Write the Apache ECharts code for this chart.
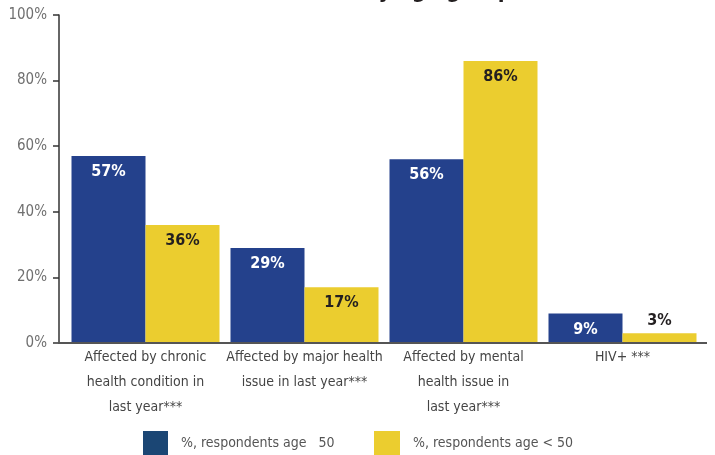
<!DOCTYPE html>
<html><head><meta charset="utf-8">
<script src="https://cdn.jsdelivr.net/npm/echarts@6/dist/echarts.min.js"></script>
<style>html,body{margin:0;padding:0;background:#fff}#c{width:715px;height:455px}</style>
</head><body><div id="c"></div>
<script>
var categories = [
  "Affected by chronic\nhealth condition in\nlast year***",
  "Affected by major health\nissue in last year***",
  "Affected by mental\nhealth issue in\nlast year***",
  "HIV+ ***"
];
var seriesNames = ["%, respondents age   50", "%, respondents age < 50"];
var olderValues = [57, 29, 56, 9];
var youngerValues = [36, 17, 86, 3];
var yTicks = [0, 20, 40, 60, 80, 100];

var FONT = '"DejaVu Sans Condensed", "Liberation Sans Narrow", sans-serif';
var chart = echarts.init(document.getElementById('c'), null, {renderer: 'canvas'});

function mk(vals) {
  return vals.map(function (v) {
    var d = {value: v};
    if (v < 5) d.label = {position: 'top', distance: 4, color: '#231f20'};
    return d;
  });
}

var legendText = {fontFamily: FONT, fontSize: 14, color: '#555', padding: [0, 0, 0, 8]};
var option = {
  animation: false,
  textStyle: {fontFamily: FONT},
  grid: {left: 66, right: 13, top: 15, bottom: 112, containLabel: false},
  legend: [
    {bottom: 0, left: 143, padding: 0, itemWidth: 25, itemHeight: 24, icon: 'rect',
     textStyle: legendText, data: [{name: seriesNames[0], itemStyle: {color: '#1b4674'}}]},
    {bottom: 0, left: 374, padding: 0, itemWidth: 26, itemHeight: 24, icon: 'rect',
     textStyle: legendText, data: [{name: seriesNames[1]}]}
  ],
  xAxis: {
    type: 'category', data: categories,
    axisLine: {show: false}, axisTick: {show: false},
    axisLabel: {fontFamily: FONT, fontSize: 14, color: '#444', lineHeight: 25, margin: 2, interval: 0}
  },
  yAxis: {
    type: 'value', min: 0, max: 100, interval: 20, offset: 7,
    axisLine: {show: true, lineStyle: {color: '#333', width: 1.5}},
    axisTick: {show: true, length: 6, lineStyle: {color: '#333', width: 1.5}},
    splitLine: {show: false},
    axisLabel: {fontFamily: FONT, fontSize: 15, color: '#707070', margin: 12,
      formatter: function (v) { return yTicks.indexOf(v) >= 0 ? v + '%' : ''; }}
  },
  series: [
    {name: seriesNames[0], type: 'bar', barWidth: 74, barGap: '0%',
     itemStyle: {color: '#24418c'}, data: mk(olderValues),
     label: {show: true, position: 'insideTop', distance: 8, formatter: '{c}%',
       fontFamily: FONT, fontWeight: 'bold', fontSize: 16, color: '#fff'}},
    {name: seriesNames[1], type: 'bar', barWidth: 74, barGap: '0%',
     itemStyle: {color: '#ebcd2f'}, data: mk(youngerValues),
     label: {show: true, position: 'insideTop', distance: 8, formatter: '{c}%',
       fontFamily: FONT, fontWeight: 'bold', fontSize: 16, color: '#231f20'}}
  ]
};
chart.setOption(option);

var y0 = chart.convertToPixel({yAxisIndex: 0}, 0);
chart.setOption({
  graphic: [
    {type: 'line', shape: {x1: 58, y1: y0, x2: 707, y2: y0}, style: {stroke: '#555', lineWidth: 2}, z: 10},
    {type: 'text', x: 512, y: 3, style: {text: 'Health issues by age group', font: 'bold 22px ' + FONT,
      fill: '#231f20', textAlign: 'right', textVerticalAlign: 'bottom'}}
  ]
});
</script></body></html>
